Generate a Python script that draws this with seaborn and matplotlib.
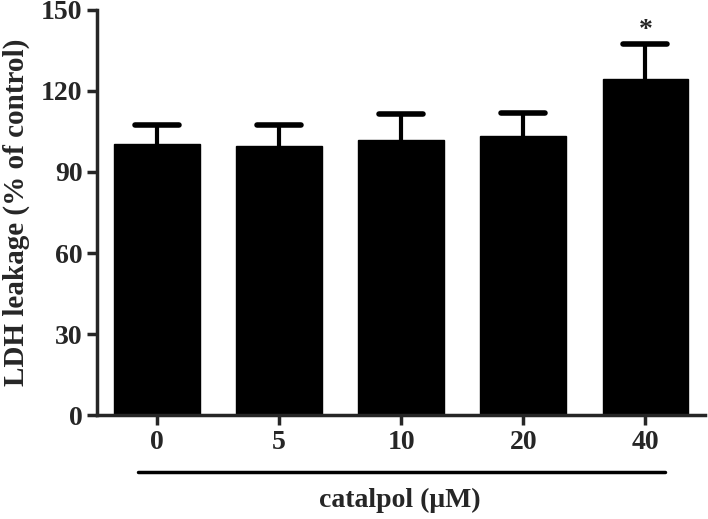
import matplotlib
matplotlib.use("Agg")
import matplotlib.pyplot as plt
import seaborn as sns
import pandas as pd

# values
doses = ["0", "5", "10", "20", "40"]
ldh_mean = [100.5, 99.5, 101.8, 103.2, 124.4]
ldh_err = [6.8, 8.0, 9.5, 8.5, 13.0]
star_doses = ["40"]

sns.set_style("ticks")
plt.rcParams["font.family"] = ["Liberation Serif", "DejaVu Serif"]
plt.rcParams["font.weight"] = "bold"

df = pd.DataFrame({"dose": doses, "ldh": ldh_mean, "err": ldh_err})
df["top"] = df["ldh"] + df["err"]

fig = plt.figure(figsize=(7.08, 5.19), dpi=100)
ax = fig.add_axes([0.137, 0.2, 0.859, 0.781])

sns.barplot(
    data=df,
    x="dose",
    y="ldh",
    order=doses,
    color="black",
    edgecolor="black",
    width=0.7,
    saturation=1,
    errorbar=None,
    ax=ax
)

# upper error bars only: stem + cap
xpos = list(range(len(doses)))
ax.vlines(xpos, df["ldh"], df["top"], color="black", linewidth=3)
ax.hlines(df["top"], [x - 0.18 for x in xpos], [x + 0.18 for x in xpos],
          color="black", linewidth=4, capstyle="round")

for d in star_doses:
    i = doses.index(d)
    ax.text(i, df["top"][i] + 0.5, "*", ha="center", va="bottom", fontsize=20, fontweight="bold")

ax.set_ylim(0, 150)
ax.set_yticks([0, 30, 60, 90, 120, 150])
ax.set_xlim(-0.49, 4.49)

sns.despine(ax=ax)
for side in ["left", "bottom"]:
    ax.spines[side].set_linewidth(2.5)
ax.tick_params(axis="both", width=2.5, length=7, labelsize=20)
for lab in ax.get_xticklabels() + ax.get_yticklabels():
    lab.set_fontweight("bold")

ax.set_xlabel("")
ax.set_ylabel("LDH leakage (% of control)", fontsize=21, fontweight="bold", labelpad=8)

# horizontal bar under the dose labels
fig.add_artist(plt.Line2D([138 / 708, 665 / 708], [1 - 472 / 519, 1 - 472 / 519],
                          color="black", linewidth=2.5, solid_capstyle="round"))
fig.text(400 / 708, 1 - 500 / 519, "catalpol (\u03bcM)", ha="center", va="center",
         fontsize=20, fontweight="bold")

plt.savefig("out.png", dpi=100)
